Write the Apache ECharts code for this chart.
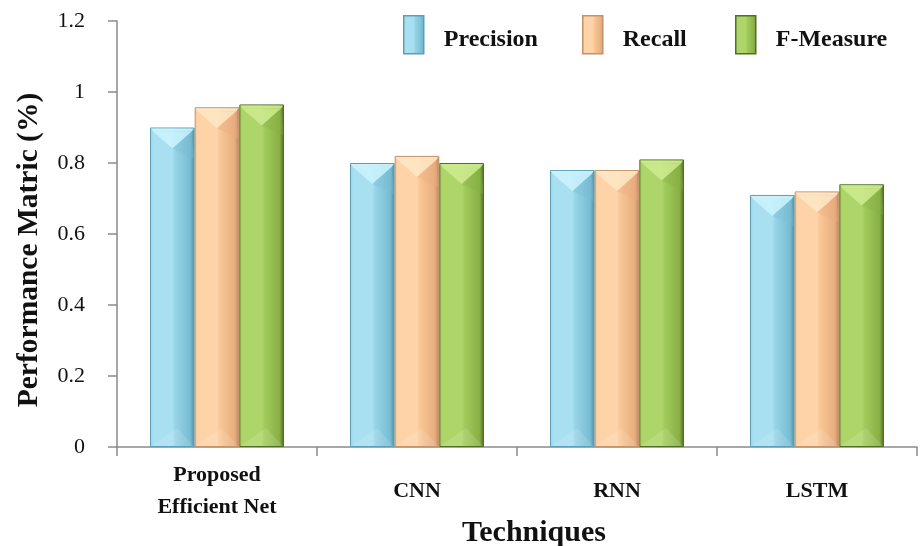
<!DOCTYPE html>
<html>
<head>
<meta charset="utf-8">
<script src="https://cdn.jsdelivr.net/npm/echarts@6/dist/echarts.min.js"></script>
<style>
html,body{margin:0;padding:0;background:#fff;overflow:hidden;}
#chart{width:920px;height:546px;}
</style>
</head>
<body>
<div id="chart"></div>
<script>
// ---- data ----
var categories = ['Proposed\nEfficient Net', 'CNN', 'RNN', 'LSTM'];
var seriesNames = ['Precision', 'Recall', 'F-Measure'];
var precision = [0.90, 0.80, 0.78, 0.71];
var recall = [0.957, 0.82, 0.78, 0.72];
var fMeasure = [0.965, 0.80, 0.81, 0.74];
var yTicks = { min: 0, max: 1.2, interval: 0.2 };

// ---- style ----
var FONT = '"Liberation Serif", "Times New Roman", serif';
var palettes = [
  { light: '#a8e0f1', mid: '#97d4e8', dark: '#78bcd2', edge: '#4d8ea5', top: '#cbf3fd', border: '#5e9fb5' },
  { light: '#fed3a8', mid: '#f9c797', dark: '#e8ad7e', edge: '#b9825a', top: '#fee8c6', border: '#c2926b' },
  { light: '#aed56a', mid: '#a2cb5d', dark: '#88b045', edge: '#4d6d1c', top: '#cdeb8f', border: '#4f6f22' }
];
var allValues = [precision, recall, fMeasure];

function barGradient(p) {
  return new echarts.graphic.LinearGradient(0, 0, 1, 0, [
    { offset: 0, color: p.mid },
    { offset: 0.08, color: p.light },
    { offset: 0.5, color: p.light },
    { offset: 0.56, color: p.mid },
    { offset: 0.9, color: p.dark },
    { offset: 1, color: p.edge }
  ]);
}

var GROUP_FRAC = 0.67;
var series = [];
seriesNames.forEach(function (name, i) {
  series.push({
    name: name,
    type: 'bar',
    data: allValues[i],
    barGap: 0,
    barCategoryGap: '33%',
    itemStyle: { color: barGradient(palettes[i]), borderColor: palettes[i].border, borderWidth: 1 },
    z: 2
  });
});
seriesNames.forEach(function (name, i) {
  series.push({
    name: name + ' bevel',
    type: 'custom',
    z: 3,
    silent: true,
    data: allValues[i].map(function (v, k) { return [k, v]; }),
    encode: { x: 0, y: 1 },
    renderItem: function (params, api) {
      var top = api.coord([api.value(0), api.value(1)]);
      var bottom = api.coord([api.value(0), 0]);
      var band = api.size([1, 0])[0];
      var bw = band * GROUP_FRAC / 3;
      var x0 = top[0] - band * GROUP_FRAC / 2 + i * bw + 1;
      var x1 = x0 + bw - 2;
      var xc = (x0 + x1) / 2;
      var yt = top[1] + 1;
      var yb = bottom[1] - 1;
      var depth = bw * 0.45;
      var p = palettes[i];
      return {
        type: 'group',
        children: [
          { type: 'polygon', shape: { points: [[x0, yt], [x1, yt], [x1 - 2, yt + 3], [x0 + 2, yt + 3]] },
            style: { fill: p.top, opacity: 0.9 } },
          { type: 'polygon', shape: { points: [[x0 + 2, yt + 3], [x1 - 2, yt + 3], [xc, yt + depth]] },
            style: { fill: p.top, opacity: 0.85 } },
          { type: 'polygon', shape: { points: [[xc, yt + depth], [x1 - 2, yt + 3], [x1, yt + depth + 4], [x1, yt + depth + 10]] },
            style: { fill: p.dark, opacity: 0.35 } },
          { type: 'polygon', shape: { points: [[x0, yb], [xc + bw * 0.1, yb - depth * 0.9], [x1, yb]] },
            style: { fill: '#ffffff', opacity: 0.12 } }
        ]
      };
    }
  });
});

var legendLefts = [403, 582, 735];
var legends = seriesNames.map(function (name, i) {
  return {
    data: [name],
    left: legendLefts[i],
    top: 15,
    padding: 0,
    itemWidth: 20,
    itemHeight: 38,
    icon: 'rect',
    selectedMode: false,
    formatter: '{a|{name}}',
    itemStyle: { color: barGradient(palettes[i]), borderColor: palettes[i].border, borderWidth: 1.5 },
    textStyle: {
      fontFamily: FONT, fontWeight: 'bold', fontSize: 24, color: '#111', padding: [0, 0, 0, 15],
      rich: { a: { fontFamily: FONT, fontWeight: 'bold', fontSize: 24, color: '#111', padding: [10, 0, 0, 0] } }
    }
  };
});

var dom = document.getElementById('chart');
var chart = echarts.init(dom, null, { renderer: 'canvas', width: 920, height: 546 });
chart.setOption({
  animation: false,
  backgroundColor: '#ffffff',
  legend: legends,
  grid: { left: 117, right: 3, top: 21, bottom: 99, containLabel: false, outerBoundsMode: 'none' },
  xAxis: {
    type: 'category',
    data: categories,
    boundaryGap: true,
    name: 'Techniques',
    nameLocation: 'middle',
    nameGap: 86,
    nameMoveOverlap: false,
    nameTextStyle: { fontFamily: FONT, fontWeight: 'bold', fontSize: 30, color: '#111', verticalAlign: 'middle', padding: [0, 0, 0, 34] },
    axisLine: { show: true, lineStyle: { color: '#8a8a8a', width: 1.5 } },
    axisTick: { show: true, alignWithLabel: false, length: 9, lineStyle: { color: '#8a8a8a', width: 1.5 } },
    axisLabel: { fontFamily: FONT, fontWeight: 'bold', fontSize: 22, color: '#111', lineHeight: 32, margin: 44, verticalAlign: 'middle', interval: 0 },
    splitLine: { show: false }
  },
  yAxis: {
    type: 'value',
    min: yTicks.min,
    max: yTicks.max,
    interval: yTicks.interval,
    name: 'Performance Matric (%)',
    nameLocation: 'middle',
    nameGap: 88,
    nameRotate: 90,
    nameMoveOverlap: false,
    nameTextStyle: { fontFamily: FONT, fontWeight: 'bold', fontSize: 29.5, color: '#111', verticalAlign: 'middle', padding: [0, 32, 0, 0] },
    axisLine: { show: true, lineStyle: { color: '#8a8a8a', width: 1.5 } },
    axisTick: { show: true, inside: false, length: 9, lineStyle: { color: '#8a8a8a', width: 1.5 } },
    axisLabel: { fontFamily: FONT, fontSize: 22, color: '#111', margin: 32 },
    splitLine: { show: false }
  },
  series: series
});
</script>
</body>
</html>
